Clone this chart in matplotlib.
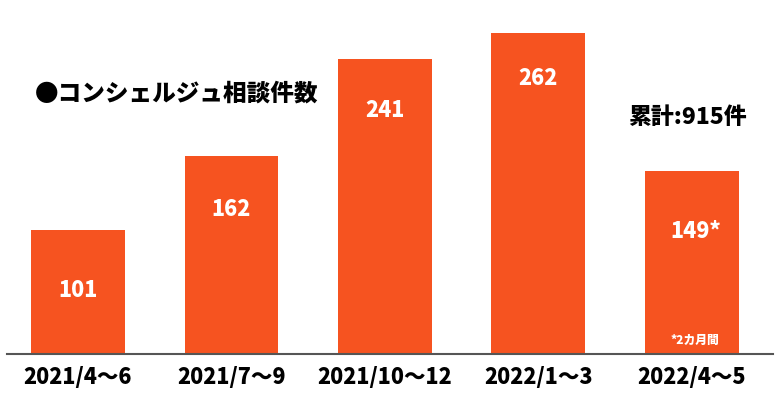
import matplotlib
matplotlib.use("Agg")
import matplotlib.pyplot as plt

categories = ["2021/4〜6", "2021/7〜9", "2021/10〜12", "2022/1〜3", "2022/4〜5"]
values = [101, 162, 241, 262, 149]
value_labels = ["101", "162", "241", "262", "149*"]
label_offsets = [-60, -54, -52, -45, -60]  # pixel offset from bar top
title = "●コンシェルジュ相談件数"
total_text = "累計:915件"
note_text = "*2カ月間"

plt.rcParams['font.family'] = ['Noto Sans CJK JP', 'DejaVu Sans']
W = 900

fig = plt.figure(figsize=(7.8, 3.99), dpi=100)
ax = fig.add_axes([7/780, 45/399, 766/780, 354/399])
color = "#F65320"
x = list(range(len(values)))
ax.bar(x, values, width=0.612, color=color, zorder=2)
ax.set_xlim(-0.4625, 4.528)
ax.set_ylim(0, 289)
for s in ["top", "right", "left"]:
    ax.spines[s].set_visible(False)
ax.spines["bottom"].set_color("#555555")
ax.spines["bottom"].set_linewidth(1.5)
ax.set_yticks([])
ax.set_xticks(x)
ax.set_xticklabels(categories, fontsize=15.5, fontweight=W)
for t in ax.get_xticklabels():
    t.set_x(t.get_position()[0])
ax.tick_params(axis="x", length=0, pad=9)

for i, (v, lab, off) in enumerate(zip(values, value_labels, label_offsets)):
    ax.annotate(lab, (i, v), xytext=(0 if i < 4 else 3, off * 0.72), textcoords="offset points",
                ha="center", va="center", color="white", fontsize=15.5, fontweight=W)

ax.annotate(note_text, (4, 0), xytext=(2, 10), textcoords="offset points",
            ha="center", va="center", color="white", fontsize=8.5, fontweight=W)

fig.text(35/780, 1 - 93/399, title, ha="left", va="center", fontsize=17, fontweight=W)
fig.text(687/780, 1 - 118/399, total_text, ha="center", va="center", fontsize=16.5, fontweight=W)

fig.savefig("out.png", dpi=100, facecolor="white")
